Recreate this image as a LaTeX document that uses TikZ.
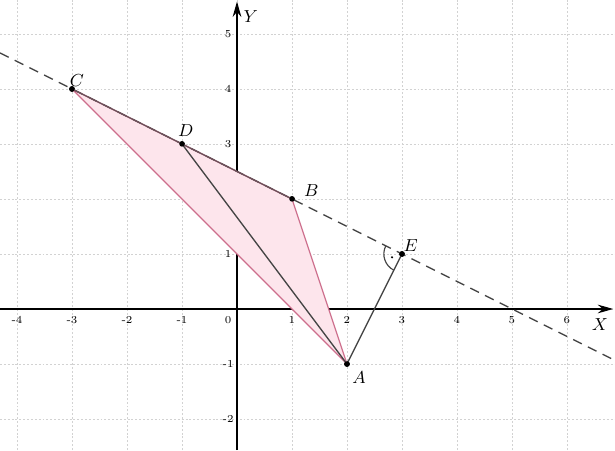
\documentclass[tikz,border=0pt]{standalone}
\usetikzlibrary{arrows.meta}
\definecolor{pinkfill}{RGB}{253,229,236}
\definecolor{pinkedge}{RGB}{205,110,140}
\definecolor{segcol}{RGB}{70,70,70}
\begin{document}
\begin{tikzpicture}[x=1cm,y=1cm,
  gridline/.style={gray!35, dash pattern=on 1pt off 1pt, line width=0.4pt},
  axisline/.style={black, line width=0.6pt, -{Stealth[length=8pt,width=4.5pt]}},
  pt/.style={circle, fill=black, inner sep=0pt, minimum size=3pt},
  lbl/.style={font=\fontsize{9}{10}\selectfont, inner sep=0pt},
  tick/.style={font=\fontsize{5.5}{6}\selectfont, inner sep=0pt},
  seg/.style={segcol, line width=0.7pt},
  dashline/.style={segcol, line width=0.7pt, dash pattern=on 5pt off 3.5pt}]
\useasboundingbox (-4.309,-2.564) rectangle (6.873,5.618);
\draw[gridline] (-4.309,-2.564) grid (6.873,5.618);
% axes
\coordinate (xs) at (-4.309,0);
\coordinate (xe) at (6.84,0);
\coordinate (ys) at (0,-2.564);
\coordinate (ye) at (0,5.59);
\draw[axisline] (xs) -- (xe);
\draw[axisline] (ys) -- (ye);
\node[lbl] (xl) at (6.6,-0.29) {$X$};
\node[lbl] (yl) at (0.25,5.31) {$Y$};
% tick labels
\foreach \i in {-4,-3,-2,-1,1,2,3,4,5,6} {\node[tick] (tx\i) at (\i,-0.2) {\i};}
\node[tick] (t0) at (-0.16,-0.2) {0};
\foreach \j in {-2,-1,1,2,3,4,5} {\node[tick] (ty\j) at (-0.16,\j) {\j};}
% points
\node[pt] (A) at (2,-1) {};
\node[pt] (B) at (1,2) {};
\node[pt] (C) at (-3,4) {};
\node[pt] (D) at (-1,3) {};
\node[pt] (E) at (3,1) {};
\coordinate (L1) at (-4.309,4.6545);
\coordinate (L2) at (6.873,-0.9365);
% fill
\fill[pinkfill] (C.center) -- (B.center) -- (A.center) -- cycle;
\draw[pinkedge, line width=0.6pt, line join=round] (C.center) -- (B.center) -- (A.center) -- cycle;
% dashed line
\draw[dashline] (L1) -- (L2);
\draw[segcol!70!pinkedge, line width=0.7pt] (C.center) -- (B.center);
% segments
\draw[seg] (D.center) -- (A.center);
\draw[seg] (A.center) -- (E.center);
% right angle
\draw[segcol, line width=0.6pt] (E.center) ++(153.43:0.33) arc[start angle=153.43, end angle=243.43, radius=0.33];
\fill[black] (E.center) ++(198.43:0.19) circle (0.6pt);
% redraw points on top
\foreach \p in {A,B,C,D,E} {\fill[black] (\p.center) circle (1.4pt);}
% labels
\node[lbl] (lA) at (2.22,-1.24) {$A$};
\node[lbl] (lB) at (1.35,2.15) {$B$};
\node[lbl] (lC) at (-2.91,4.16) {$C$};
\node[lbl] (lD) at (-0.93,3.24) {$D$};
\node[lbl] (lE) at (3.16,1.16) {$E$};
\end{tikzpicture}
\end{document}
